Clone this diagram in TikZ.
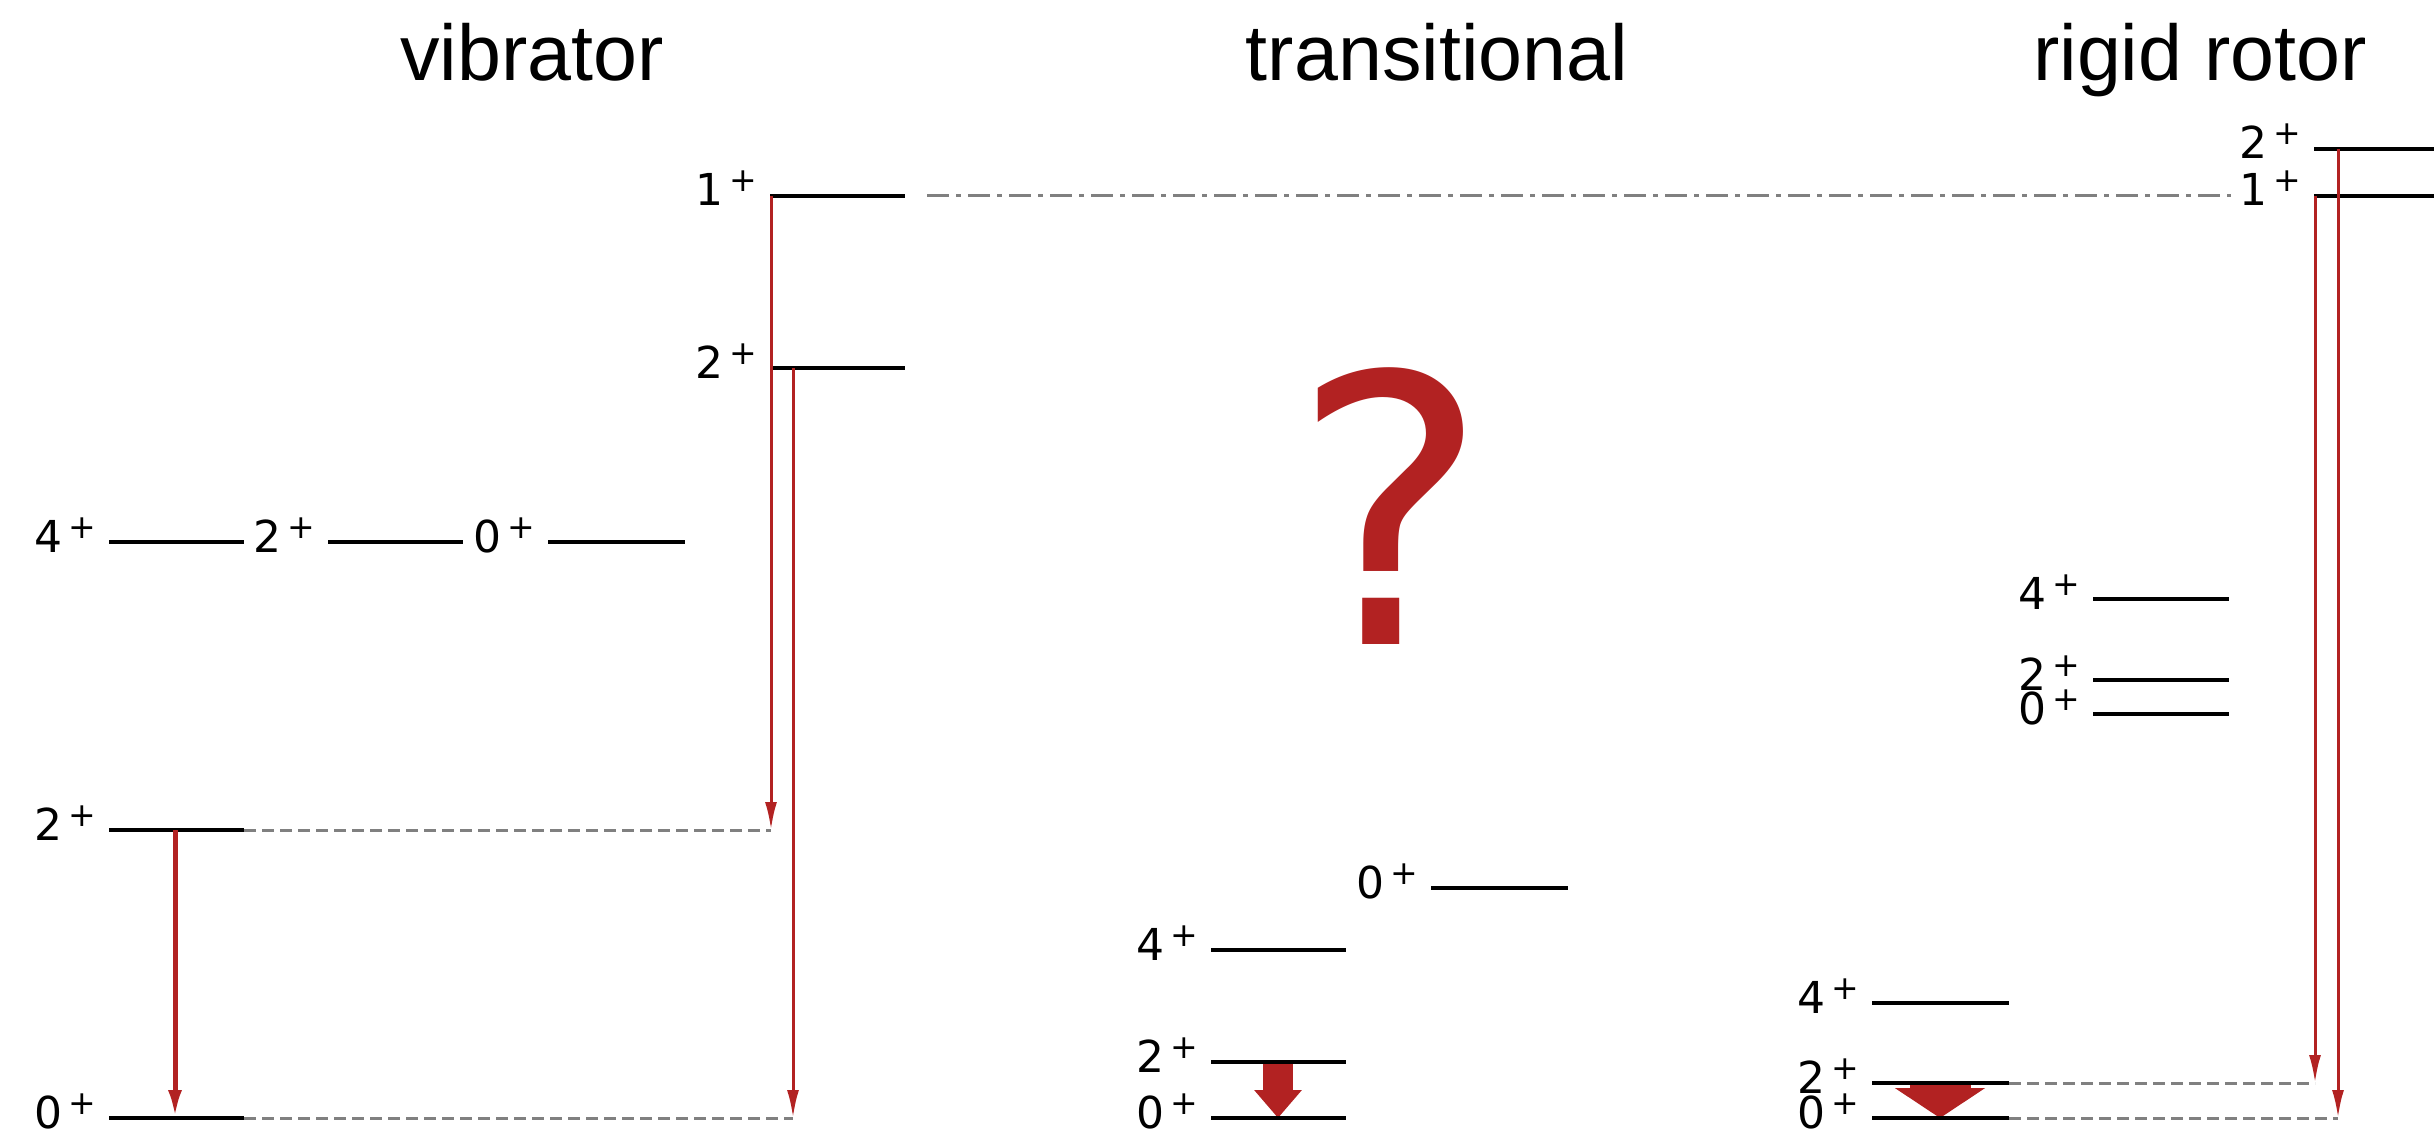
\documentclass[tikz,border=0pt]{standalone}
\usepackage{fontspec}
\setmainfont{Liberation Sans}
\newfontfamily\labfont{DejaVu Sans}
\usetikzlibrary{arrows.meta,calc}
\definecolor{myred}{RGB}{178,34,34}
\definecolor{mygray}{RGB}{128,128,128}
\newcommand{\lv}[1]{{\labfont\fontsize{44}{44}\selectfont #1\hspace{6pt}\raisebox{14pt}{\fontsize{33}{33}\selectfont +}}}
\newcommand{\mklevel}[5]{%
  \coordinate (#1L) at (#2,#4);
  \coordinate (#1R) at (#3,#4);
  \draw[level] (#1L) -- (#1R);
  \node[lvllabel] (#1T) at (#2-13,#4+10) {\lv{#5}};
}
\begin{document}
\begin{tikzpicture}[x=1pt,y=-1pt,
  level/.style={line width=4.5pt, black},
  lvllabel/.style={anchor=base east, inner sep=0pt, outer sep=0pt},
  titlestyle/.style={anchor=base, inner sep=0pt, font=\fontsize{79}{79}\selectfont},
  dashconn/.style={mygray, line width=3pt, dash pattern=on 12pt off 6pt},
  dashdotconn/.style={mygray, line width=3pt, dash pattern=on 22pt off 7pt on 5pt off 7pt},
  thinarr/.style={myred, line width=3pt, -{Latex[length=28pt,width=12pt]}},
  vibarr/.style={myred, line width=5pt, -{Latex[length=28pt,width=14pt]}},
]
\useasboundingbox (0,0) rectangle (2434,1134);

% titles
\node[titlestyle] (tv) at (532,81) {vibrator};
\node[titlestyle] (tt) at (1437,81) {transitional};
\node[titlestyle] (tr) at (2200,81) {rigid rotor};

% question mark
\node[anchor=base, inner sep=0pt, text=myred, font=\labfont\fontsize{373}{373}\selectfont] (q) at (1390,644) {?};

% coordinates of connector ends
\coordinate (d2end) at (771,830);
\coordinate (d0end) at (793,1118);
\coordinate (rd2end) at (2315,1083);
\coordinate (rd0end) at (2338,1118);
\coordinate (ddA) at (927,196);
\coordinate (ddB) at (2231,196);

% levels
\mklevel{v0}{109}{244}{1118}{0}
\mklevel{v2}{109}{244}{830}{2}
\mklevel{v4a}{109}{244}{542}{4}
\mklevel{v2b}{328}{463}{542}{2}
\mklevel{v0b}{548}{685}{542}{0}
\mklevel{m1}{770}{905}{196}{1}
\mklevel{m2}{770}{905}{368}{2}

\mklevel{t0}{1211}{1346}{1118}{0}
\mklevel{t2}{1211}{1346}{1062}{2}
\mklevel{t4}{1211}{1346}{950}{4}
\mklevel{t0b}{1431}{1568}{888}{0}

\mklevel{r0}{1872}{2009}{1118}{0}
\mklevel{r2}{1872}{2009}{1083}{2}
\mklevel{r4}{1872}{2009}{1003}{4}
\mklevel{g0}{2093}{2229}{714}{0}
\mklevel{g2}{2093}{2229}{680}{2}
\mklevel{g4}{2093}{2229}{599}{4}
\mklevel{h1}{2314}{2434}{196}{1}
\mklevel{h2}{2314}{2434}{149}{2}

% dashed connectors
\draw[dashconn] (v2R) -- (d2end);
\draw[dashconn] (v0R) -- (d0end);
\draw[dashconn] (r2R) -- (rd2end);
\draw[dashconn] (r0R) -- (rd0end);
\draw[dashdotconn] (ddA) -- (ddB);

% red transitions
\draw[vibarr] ($(v2L)+(66,0)$) -- ($(v0L)+(66,0)$);
\draw[thinarr] ($(m1L)+(1,0)$) -- (d2end);
\draw[thinarr] ($(m2L)+(23,0)$) -- (d0end);
\draw[thinarr] ($(h1L)+(1,0)$) -- (rd2end);
\draw[thinarr] ($(h2L)+(24,0)$) -- (rd0end);

% fat arrows
\draw[myred, line width=30pt, -{Triangle[width=46pt,length=28pt]}] ($(t2L)+(67,2)$) -- ($(t0L)+(67,0)$);
\draw[myred, line width=61pt, -{Triangle[width=89pt,length=30pt]}] ($(r2L)+(68,2)$) -- ($(r0L)+(68,0)$);

% redraw level lines on top of fat arrows
\draw[level] (t2L) -- (t2R);
\draw[level] (t0L) -- (t0R);
\draw[level] (r2L) -- (r2R);
\draw[level] (r0L) -- (r0R);
\end{tikzpicture}
\end{document}
